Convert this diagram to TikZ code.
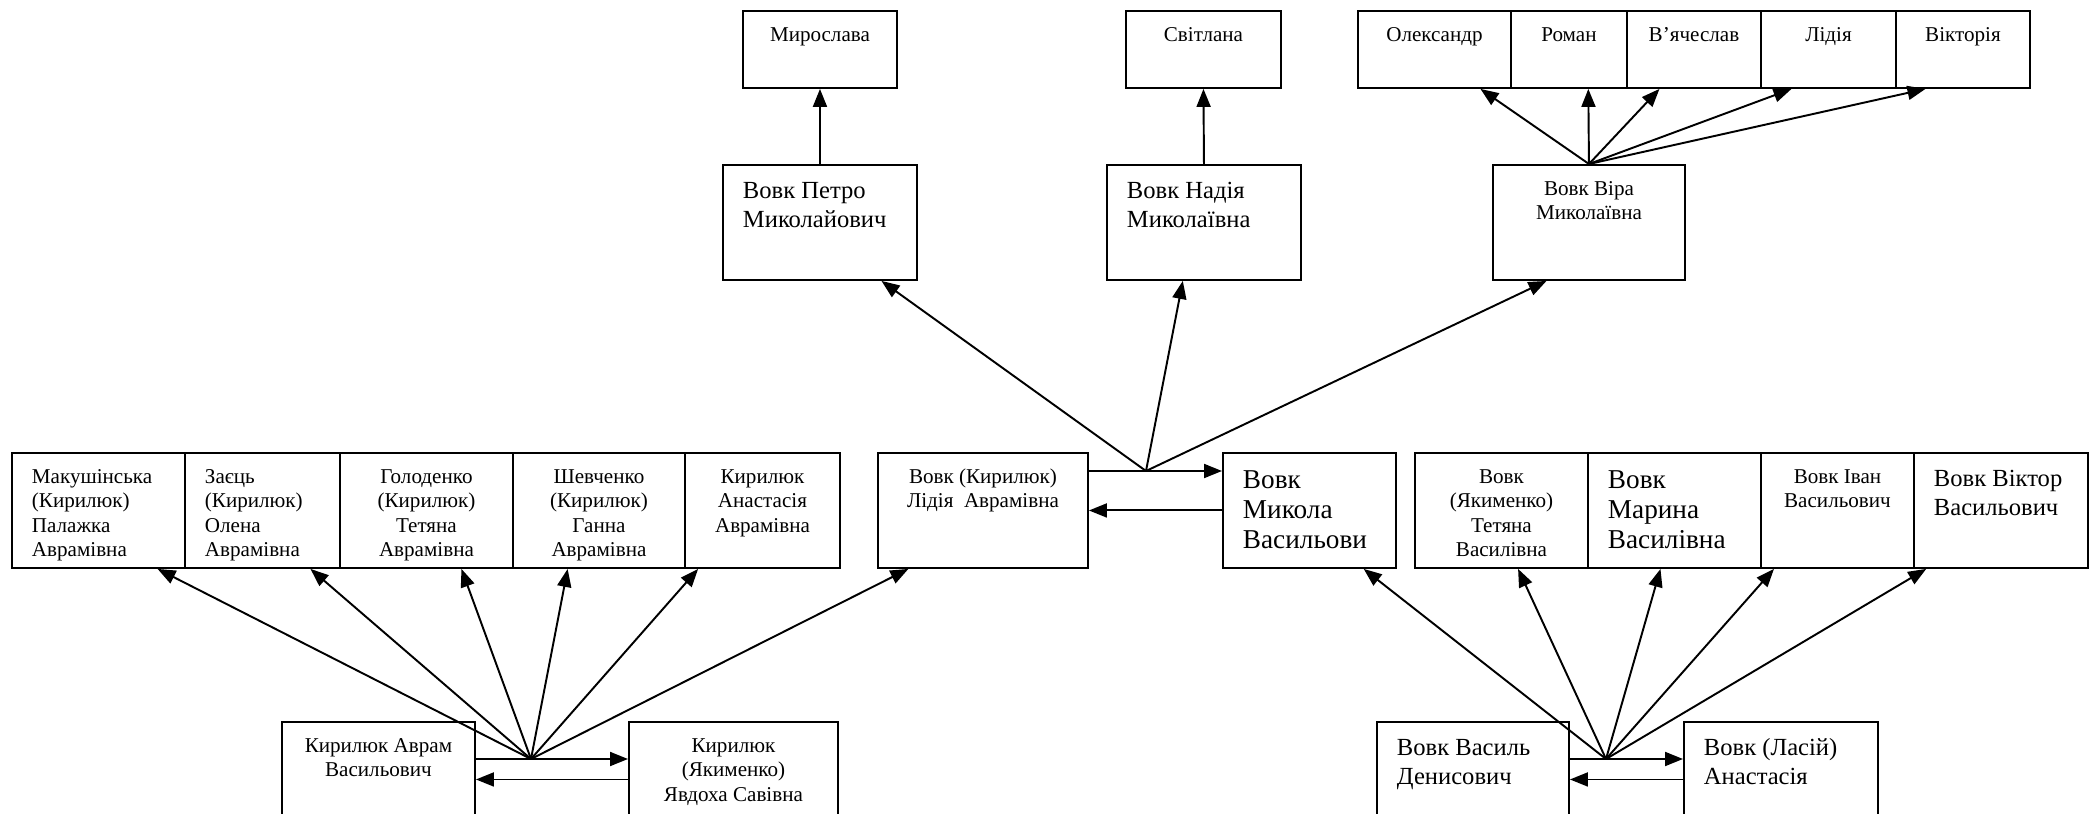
\documentclass[tikz,border=0pt]{standalone}
\usepackage{fontspec}
\setmainfont{Liberation Serif}
\usetikzlibrary{calc,arrows.meta}
\newdimen\px \px=0.2mm
\def\namebox#1#2#3{\parbox[c][#2\px][t]{\dimexpr#1\px-40\px\relax}{#3}}
\def\smalltxt{\fontsize{12}{13.7}\selectfont\rule{0pt}{17.6pt}}
\def\midtxt{\fontsize{14}{16.2}\selectfont\rule{0pt}{19.2pt}}
\def\bigtxt{\fontsize{15.5}{16.8}\selectfont\rule{0pt}{20.5pt}}

\begin{document}
\begin{tikzpicture}[x=0.2mm, y=-0.2mm,
		person/.style={draw, line width=1.1pt, inner xsep=4mm, inner ysep=0pt, anchor=north west},
		arr/.style={-{Triangle[length=3.6mm, width=2.8mm]}, line width=1.1pt}]
		%%%%% START %%%%%
		\useasboundingbox (0, 0) rectangle (2092, 814);
		
		\node[person] (myroslava) at (742, 10) {\namebox{154}{77}{\centering\smalltxt Мирослава}};
		\node[person] (svitlana) at (1125, 10) {\namebox{155}{77}{\centering\smalltxt Світлана}};
		\node[person] (oleksandr) at (1357, 10) {\namebox{153}{77}{\centering\smalltxt Олександр}};
		\node[person] (roman) at (1510, 10) {\namebox{116}{77}{\centering\smalltxt Роман}};
		\node[person] (viacheslav) at (1626, 10) {\namebox{134}{77}{\centering\smalltxt В’ячеслав}};
		\node[person] (lidiia) at (1760, 10) {\namebox{135}{77}{\centering\smalltxt Лідія}};
		\node[person] (viktoriia) at (1895, 10) {\namebox{134}{77}{\centering\smalltxt Вікторія}};
		
		\node[person] (petro) at (722, 164) {\namebox{194}{115}{\raggedright\midtxt Вовк Петро\\Миколайович}};
		\node[person] (nadiia) at (1106, 164) {\namebox{194}{115}{\raggedright\midtxt Вовк Надія\\Миколаївна}};
		\node[person] (vira) at (1492, 164) {\namebox{192}{115}{\centering\smalltxt Вовк Віра\\Миколаївна}};
		
		\node[person] (makushinska) at (11, 452) {\namebox{173}{115}{\raggedright\smalltxt Макушінська\\(Кирилюк)\\Палажка\\Аврамівна}};
		\node[person] (zaiets) at (184, 452) {\namebox{155}{115}{\raggedright\smalltxt Заєць\\(Кирилюк)\\Олена\\Аврамівна}};
		\node[person] (holodenko) at (339, 452) {\namebox{173}{115}{\centering\smalltxt Голоденко\\(Кирилюк)\\Тетяна\\Аврамівна}};
		\node[person] (shevchenko) at (512, 452) {\namebox{172}{115}{\centering\smalltxt Шевченко\\(Кирилюк)\\Ганна\\Аврамівна}};
		\node[person] (anastasiia) at (684, 452) {\namebox{155}{115}{\centering\smalltxt Кирилюк\\Анастасія\\Аврамівна}};
		\node[person] (lidia) at (877, 452) {\namebox{210}{115}{\centering\smalltxt Вовк (Кирилюк)\\Лідія~ Аврамівна}};
		
		\node[person] (mykola) at (1222, 452) {\namebox{173}{115}{\raggedright\bigtxt Вовк\\Микола\\Васильови}};
		\node[person] (tetiana) at (1414, 452) {\namebox{173}{115}{\centering\smalltxt Вовк\\(Якименко)\\Тетяна\\Василівна}};
		\node[person] (maryna) at (1587, 452) {\namebox{173}{115}{\raggedright\bigtxt Вовк\\Марина\\Василівна}};
		\node[person] (ivan) at (1760, 452) {\namebox{153}{115}{\centering\smalltxt Вовк Іван\\Васильович}};
		\node[person] (viktor) at (1913, 452) {\namebox{174}{115}{\raggedright\midtxt Вовк Віктор\\Васильович}};
		
		\node[person] (avram) at (281, 721) {\namebox{193}{115}{\centering\smalltxt Кирилюк Аврам\\Васильович}};
		\node[person] (yavdokha) at (628, 721) {\namebox{209}{115}{\centering\smalltxt Кирилюк\\(Якименко)\\Явдоха Савівна}};
		\node[person] (vasyl) at (1376, 721) {\namebox{192}{115}{\raggedright\midtxt Вовк Василь\\Денисович}};
		\node[person] (lasii) at (1683, 721) {\namebox{194}{115}{\raggedright\midtxt Вовк (Ласій)\\Анастасія}};
		
		\coordinate (jmid) at (1146, 471);
		\coordinate (jleft) at (531, 759);
		\coordinate (jright) at (1606, 759);
		
		% couples
		\draw[arr] (lidia.east |- jmid) -- (mykola.west |- jmid);
		\draw[arr] (mykola.west) -- (lidia.east);
		\draw[arr] (avram.east |- jleft) -- (yavdokha.west |- jleft);
		\draw[arr] (yavdokha.west) -- (avram.east);
		\draw[arr] (vasyl.east |- jright) -- (lasii.west |- jright);
		\draw[arr] (lasii.west) -- (vasyl.east);
		
		% children of Kyryliuk Avram
		\draw[arr] (jleft) -- ($(makushinska.south west)!.838!(makushinska.south east)$);
		\draw[arr] (jleft) -- ($(zaiets.south west)!.806!(zaiets.south east)$);
		\draw[arr] (jleft) -- ($(holodenko.south west)!.70!(holodenko.south east)$);
		\draw[arr] (jleft) -- ($(shevchenko.south west)!.32!(shevchenko.south east)$);
		\draw[arr] (jleft) -- ($(anastasiia.south west)!.09!(anastasiia.south east)$);
		\draw[arr] (jleft) -- ($(lidia.south west)!.148!(lidia.south east)$);
		
		% children of Vovk Vasyl
		\draw[arr] (jright) -- ($(mykola.south west)!.81!(mykola.south east)$);
		\draw[arr] (jright) -- ($(tetiana.south west)!.595!(tetiana.south east)$);
		\draw[arr] (jright) -- ($(maryna.south west)!.42!(maryna.south east)$);
		\draw[arr] (jright) -- ($(ivan.south west)!.09!(ivan.south east)$);
		\draw[arr] (jright) -- ($(viktor.south west)!.075!(viktor.south east)$);
		
		% children of Vovk Mykola
		\draw[arr] (jmid) -- ($(petro.south west)!.814!(petro.south east)$);
		\draw[arr] (jmid) -- ($(nadiia.south west)!.392!(nadiia.south east)$);
		\draw[arr] (jmid) -- ($(vira.south west)!.281!(vira.south east)$);
		
		% grandchildren
		\draw[arr] (petro.north) -- (myroslava.south);
		\draw[arr] (nadiia.north) -- (svitlana.south);
		\draw[arr] (vira.north) -- ($(oleksandr.south west)!.797!(oleksandr.south east)$);
		\draw[arr] (vira.north) -- ($(roman.south west)!.664!(roman.south east)$);
		\draw[arr] (vira.north) -- ($(viacheslav.south west)!.246!(viacheslav.south east)$);
		\draw[arr] (vira.north) -- ($(lidiia.south west)!.23!(lidiia.south east)$);
		\draw[arr] (vira.north) -- ($(viktoriia.south west)!.224!(viktoriia.south east)$);
		
		%%%%% END %%%%%
\end{tikzpicture}
\end{document}
